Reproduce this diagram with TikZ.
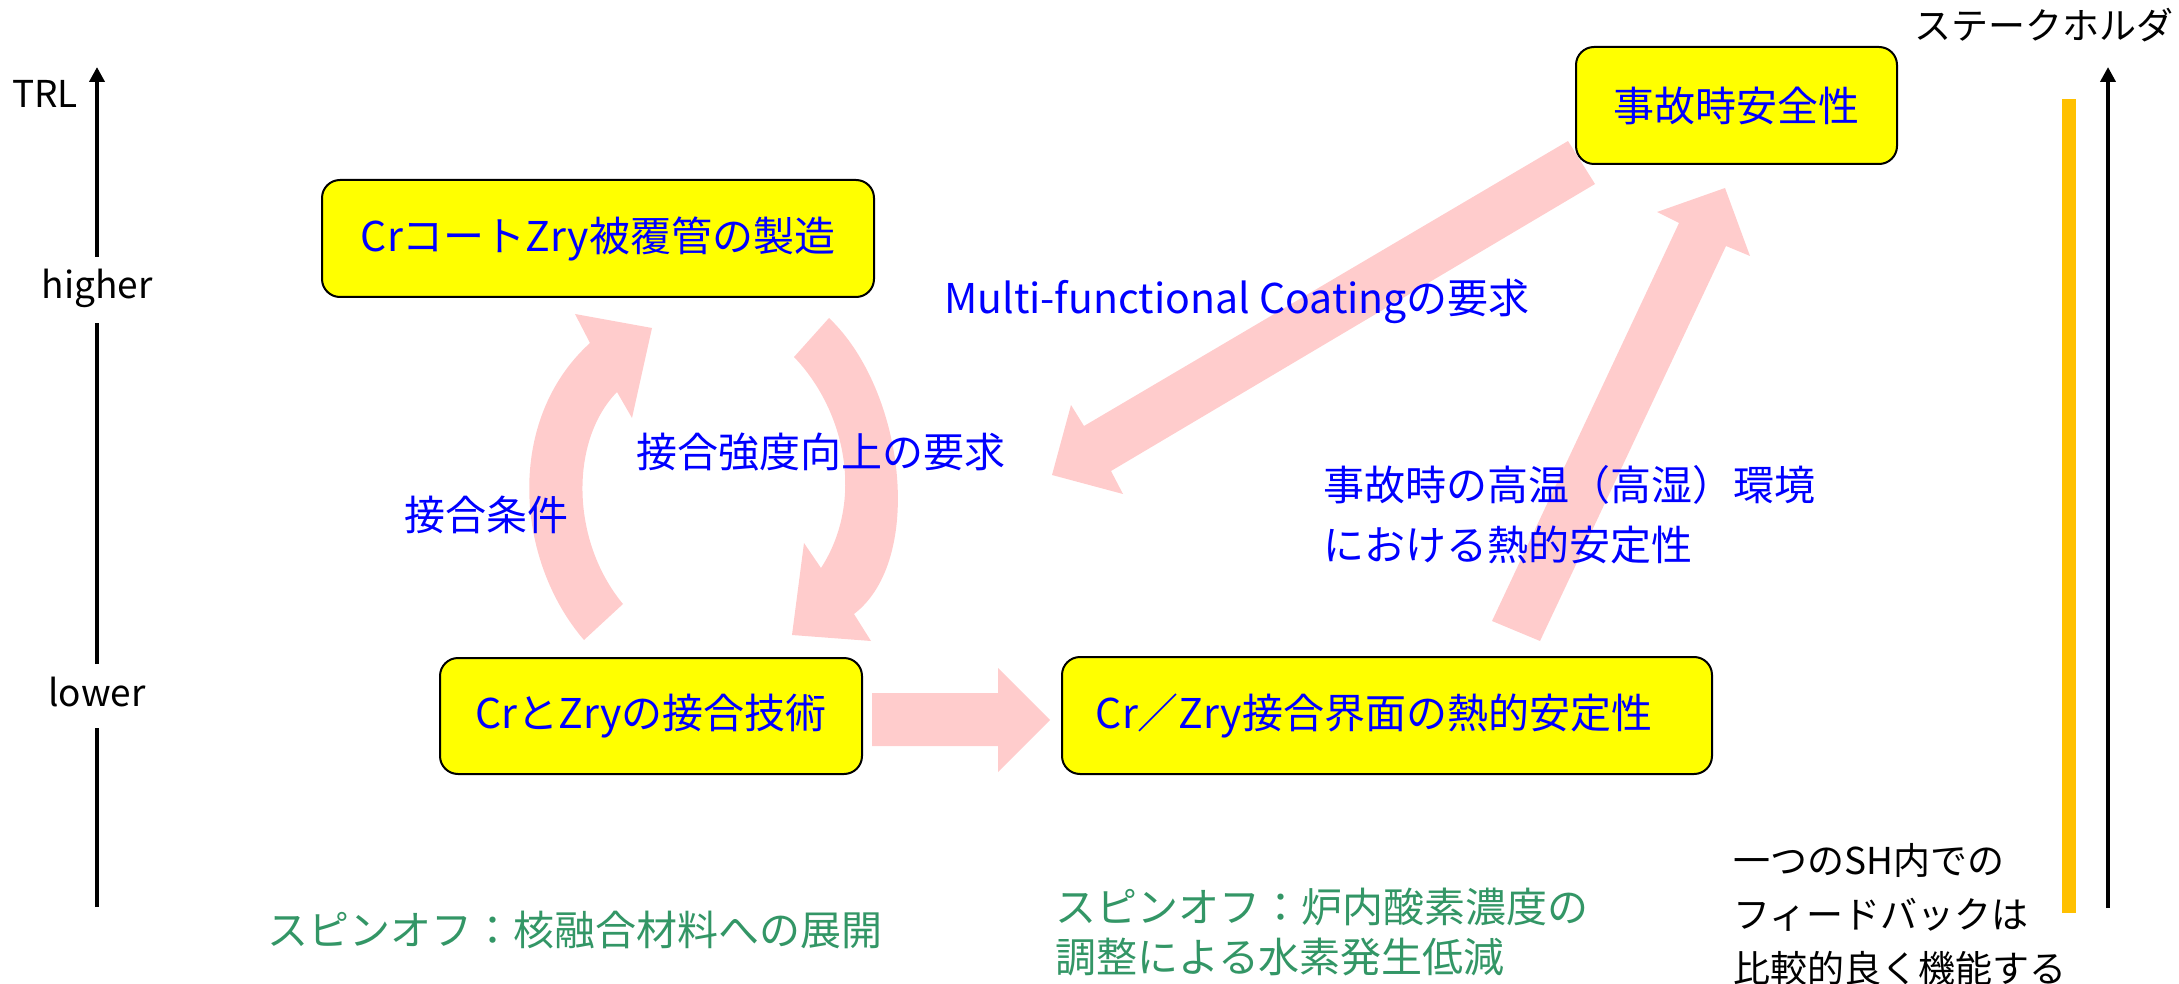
\documentclass[tikz,border=0pt]{standalone}
\usepackage{fontspec}
\setmainfont{Noto Sans CJK JP}
\usetikzlibrary{arrows.meta}
\definecolor{boxyellow}{RGB}{255,255,0}
\definecolor{arrowpink}{RGB}{255,204,204}
\definecolor{spingreen}{RGB}{51,150,102}
\definecolor{barorange}{RGB}{255,192,0}
\begin{document}
\begin{tikzpicture}[x=1pt,y=-1pt,
  stagebox/.style={draw=black, line width=2pt, fill=boxyellow, rounded corners=18pt,
    text=blue, font=\fontsize{41}{49}\selectfont, inner sep=0pt, align=center},
  bluelabel/.style={text=blue, font=\fontsize{41}{60}\selectfont, inner sep=0pt, align=left},
  greenlabel/.style={text=spingreen, font=\fontsize{41}{50}\selectfont, inner sep=0pt, align=left},
  blacklabel/.style={text=black, font=\fontsize{37}{54}\selectfont, inner sep=0pt, align=left},
  blockarrow/.style={fill=arrowpink},
  axisline/.style={line width=4.5pt, black},
  axistip/.style={-{Triangle[width=15pt,length=15pt]}}
]
\useasboundingbox (0,0) rectangle (2179,984);

% ---------- block arrows (behind everything) ----------
% A: curved, 接合技術 -> 製造
\coordinate (aTailO) at (584,640); \coordinate (aTailI) at (623,604);
\coordinate (aTip) at (652,328);
\fill[blockarrow] (aTailO) .. controls (515,560) and (505,420) .. (590,343)
  -- (575,314) -- (aTip) -- (632,418) -- (617,392)
  .. controls (570,440) and (570,540) .. (aTailI) -- cycle;
% B: curved, 製造 -> 接合技術
\coordinate (bTailO) at (829,318); \coordinate (bTailI) at (794,357);
\coordinate (bTip) at (792,635);
\fill[blockarrow] (bTailO) .. controls (905,390) and (925,560) .. (854,614)
  -- (871,641) -- (bTip) -- (804,543) -- (821,568)
  .. controls (865,500) and (845,410) .. (bTailI) -- cycle;
% C: straight, 接合技術 -> 界面
\coordinate (cTip) at (1050,720);
\fill[blockarrow] (872,693) -- (998,693) -- (998,668) -- (cTip) -- (998,772) -- (998,746) -- (872,746) -- cycle;
% D: 事故時安全性 -> 接合強度向上の要求
\coordinate (dTip) at (1052,475);
\fill[blockarrow] (1568,141) -- (1084,426) -- (1071,405) -- (dTip) -- (1123,494) -- (1111,471) -- (1595,184) -- cycle;
% E: 界面 -> 事故時安全性
\coordinate (eTip) at (1725,188);
\fill[blockarrow] (1492,621) -- (1679,223) -- (1657,212) -- (eTip) -- (1750,256) -- (1726,246) -- (1540,641) -- cycle;

% ---------- stage boxes ----------
\node[stagebox, minimum width=552pt, minimum height=117pt] (seizo) at (598,238.5) {CrコートZry被覆管の製造};
\node[stagebox, minimum width=422pt, minimum height=116pt] (setsugo) at (651,716) {CrとZryの接合技術};
\node[stagebox, minimum width=650pt, minimum height=117pt] (kaimen) at (1387,715.5) {Cr／Zry接合界面の熱的安定性\hspace{26pt}};
\node[stagebox, minimum width=321pt, minimum height=117pt] (anzen) at (1736.5,105.5) {事故時安全性};

% ---------- arrow labels ----------
\node[bluelabel] (lblMulti) at (1237,301) {Multi-functional Coatingの要求};
\node[bluelabel] (lblKyodo) at (821,452) {接合強度向上の要求};
\node[bluelabel] (lblJoken) at (486,515) {接合条件};
\node[bluelabel, anchor=west] (lblKoon) at (1323,515) {事故時の高温（高湿）環境\\における熱的安定性};

% ---------- spin-off notes ----------
\node[greenlabel] (spin1) at (575,930) {スピンオフ：核融合材料への展開};
\node[greenlabel, anchor=west] (spin2) at (1055,932) {スピンオフ：炉内酸素濃度の\\調整による水素発生低減};

% ---------- TRL axis ----------
\node[blacklabel] (trl) at (45,94) {TRL};
\node[blacklabel] (higher) at (97,288) {higher};
\node[blacklabel] (lower) at (97,692) {lower};
\coordinate (trlBottom) at (97,907);
\coordinate (lowerBelow) at (97,728);
\coordinate (lowerAbove) at (97,664);
\coordinate (higherBelow) at (97,323);
\coordinate (higherAbove) at (97,257);
\coordinate (trlTop) at (97,67);
\draw[axisline] (trlBottom) -- (lowerBelow);
\draw[axisline] (lowerAbove) -- (higherBelow);
\draw[axisline, axistip] (higherAbove) -- (trlTop);

% ---------- stakeholder axis ----------
\node[blacklabel] (sh) at (2044,25) {ステークホルダ};
\fill[barorange] (2062,99) rectangle (2076,913);
\coordinate (shBottom) at (2108,908);
\coordinate (shTop) at (2108,67);
\draw[axisline, line width=4pt, axistip] (shBottom) -- (shTop);
\node[blacklabel, anchor=west] (feedback) at (1733,914) {一つのSH内での\\フィードバックは\\比較的良く機能する};
\end{tikzpicture}
\end{document}
